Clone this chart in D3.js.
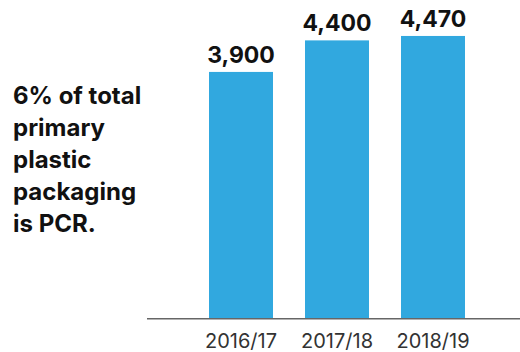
<!DOCTYPE html>
<html>
<head>
<meta charset="utf-8">
<script src="https://cdn.jsdelivr.net/npm/d3@7"></script>
<style>
  html, body { margin: 0; padding: 0; background: #fff; }
  svg { display: block; font-family: Inter, "Liberation Sans", sans-serif; }
</style>
</head>
<body>
<svg id="chart" width="520" height="352"></svg>
<script>
// dados
const years = ["2016/17", "2017/18", "2018/19"];
const tonnes = [3900, 4400, 4470];
const noteLines = ["6% of total", "primary", "plastic", "packaging", "is PCR."];

const svg = d3.select("#chart");

const x = d3.scaleBand()
    .domain(years)
    .range([177, 497])
    .padding(1 / 3);

const y = d3.scaleLinear()
    .domain([0, 5040])
    .range([318, 0]);

// barras
svg.append("g")
    .selectAll("rect")
    .data(years)
    .enter().append("rect")
    .attr("x", d => x(d))
    .attr("width", x.bandwidth())
    .attr("y", (d, i) => y(tonnes[i]))
    .attr("height", (d, i) => y(0) - y(tonnes[i]))
    .attr("fill", "#31a8df");

// valores acima das barras
svg.append("g")
    .selectAll("text")
    .data(years)
    .enter().append("text")
    .attr("x", d => x(d) + x.bandwidth() / 2)
    .attr("y", (d, i) => y(tonnes[i]) - 9)
    .attr("text-anchor", "middle")
    .attr("font-size", 23)
    .attr("font-weight", 700)
    .attr("fill", "#111")
    .text((d, i) => d3.format(",")(tonnes[i]));

// eixo x
const axis = svg.append("g")
    .attr("transform", `translate(0,${y(0)})`)
    .call(d3.axisBottom(x).tickSize(0).tickPadding(16));
axis.select(".domain").remove();
axis.selectAll("text")
    .attr("font-size", 20)
    .attr("font-family", "Inter, sans-serif")
    .attr("font-weight", 400)
    .attr("fill", "#333");

svg.append("line")
    .attr("x1", 147)
    .attr("x2", 520)
    .attr("y1", y(0) + 0.75)
    .attr("y2", y(0) + 0.75)
    .attr("stroke", "#666")
    .attr("stroke-width", 1.5);

// nota à esquerda
svg.append("g")
    .selectAll("text")
    .data(noteLines)
    .enter().append("text")
    .attr("x", 13)
    .attr("y", (d, i) => 104 + i * 32)
    .attr("font-size", 24)
    .attr("font-weight", 700)
    .attr("fill", "#111")
    .text(d => d);
</script>
</body>
</html>
